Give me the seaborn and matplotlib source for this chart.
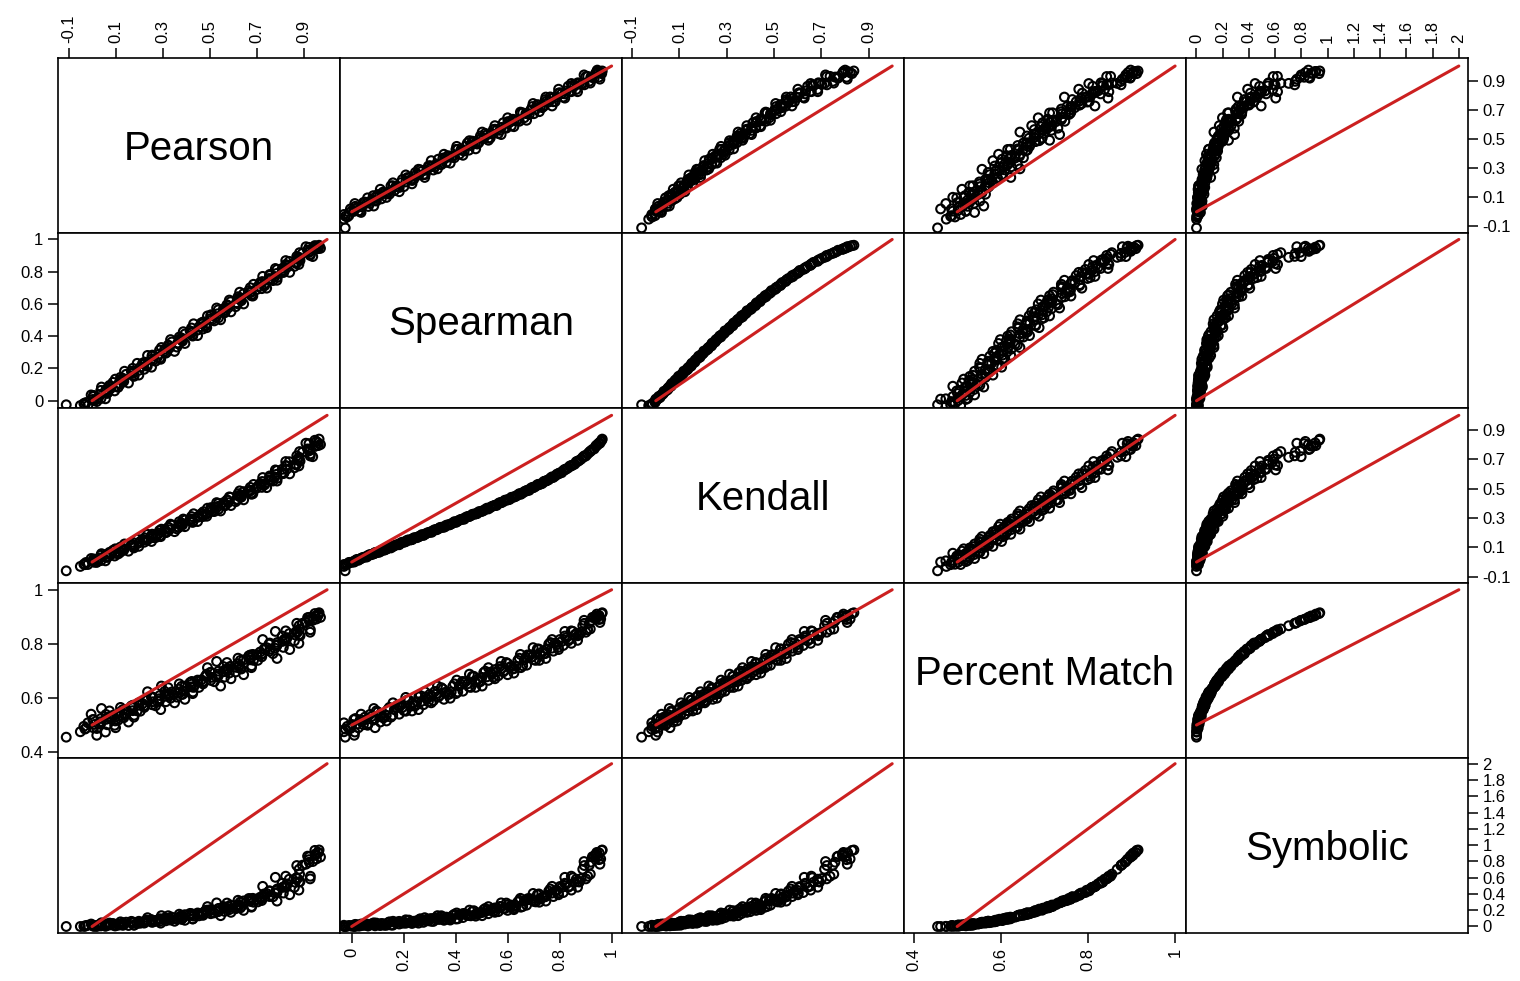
import matplotlib
matplotlib.use("Agg")
import pandas as pd
import matplotlib.pyplot as plt
import seaborn as sns

# similarity measures, one value per compared pair
pearson = [-0.018, -0.035, 0.020, 0.003, 0.028, 0.006, 0.064, 0.060, 0.059, 0.111,
           0.074, 0.114, 0.135, 0.124, 0.121, 0.179, 0.174, 0.167, 0.222, 0.205,
           0.232, 0.215, 0.270, 0.253, 0.278, 0.256, 0.314, 0.310, 0.309, 0.361,
           0.324, 0.364, 0.385, 0.374, 0.371, 0.429, 0.424, 0.417, 0.472, 0.455,
           0.482, 0.465, 0.520, 0.503, 0.528, 0.506, 0.564, 0.560, 0.559, 0.611,
           0.574, 0.614, 0.635, 0.624, 0.621, 0.679, 0.674, 0.667, 0.722, 0.705,
           0.732, 0.715, 0.770, 0.753, 0.778, 0.756, 0.814, 0.810, 0.809, 0.861,
           0.824, 0.864, 0.885, 0.874, 0.871, 0.929, 0.924, 0.917, 0.972, 0.955,
           0.948, 0.962, 0.950, -0.110, 0.020, -0.050, 0.100,
           -0.030, -0.026, 0.010, 0.038, 0.005, 0.035, 0.067, 0.037, 0.079, 0.077,
           0.119, 0.089, 0.131, 0.131, 0.178, 0.145, 0.174, 0.200, 0.173, 0.235,
           0.220, 0.224, 0.260, 0.288, 0.255, 0.285, 0.317, 0.287, 0.329, 0.327,
           0.369, 0.339, 0.381, 0.381, 0.428, 0.395, 0.424, 0.450, 0.423, 0.485,
           0.470, 0.474, 0.510, 0.538, 0.505, 0.535, 0.567, 0.537, 0.579, 0.577,
           0.619, 0.589, 0.631, 0.631, 0.678, 0.645, 0.674, 0.700, 0.673, 0.735,
           0.720, 0.724, 0.760, 0.788, 0.755, 0.785, 0.817, 0.787, 0.829, 0.827,
           0.869, 0.839, 0.881, 0.881, 0.928, 0.895, 0.924, 0.950, 0.923, 0.966,
           0.057, -0.004, 0.096, 0.040, 0.155, 0.099, 0.199, 0.138, 0.253, 0.192,
           0.292, 0.236, 0.351, 0.295, 0.395, 0.334, 0.449, 0.388, 0.488, 0.432,
           0.547, 0.491, 0.591, 0.530, 0.645, 0.584, 0.684, 0.628, 0.743, 0.687,
           0.787, 0.726, 0.841, 0.780, 0.880, 0.824, 0.939, 0.883, 0.963, 0.910]
spearman = [-0.030, -0.017, -0.005, 0.008, 0.020, 0.033, 0.045, 0.058, 0.070, 0.083,
            0.095, 0.108, 0.120, 0.133, 0.145, 0.158, 0.170, 0.183, 0.195, 0.208,
            0.220, 0.233, 0.245, 0.258, 0.270, 0.283, 0.295, 0.308, 0.320, 0.333,
            0.345, 0.358, 0.370, 0.383, 0.395, 0.408, 0.420, 0.433, 0.445, 0.458,
            0.470, 0.483, 0.495, 0.508, 0.520, 0.533, 0.545, 0.558, 0.570, 0.583,
            0.595, 0.608, 0.620, 0.633, 0.645, 0.658, 0.670, 0.683, 0.695, 0.708,
            0.720, 0.733, 0.745, 0.758, 0.770, 0.783, 0.795, 0.808, 0.820, 0.833,
            0.845, 0.858, 0.870, 0.883, 0.895, 0.908, 0.920, 0.933, 0.945, 0.958,
            0.962, 0.952, 0.940, -0.025, 0.010, -0.030, 0.090,
            -0.024, -0.011, 0.001, 0.014, 0.026, 0.039, 0.051, 0.064, 0.076, 0.089,
            0.101, 0.114, 0.126, 0.139, 0.151, 0.164, 0.176, 0.189, 0.201, 0.214,
            0.226, 0.239, 0.251, 0.264, 0.276, 0.289, 0.301, 0.314, 0.326, 0.339,
            0.351, 0.364, 0.376, 0.389, 0.401, 0.414, 0.426, 0.439, 0.451, 0.464,
            0.476, 0.489, 0.501, 0.514, 0.526, 0.539, 0.551, 0.564, 0.576, 0.589,
            0.601, 0.614, 0.626, 0.639, 0.651, 0.664, 0.676, 0.689, 0.701, 0.714,
            0.726, 0.739, 0.751, 0.764, 0.776, 0.789, 0.801, 0.814, 0.826, 0.839,
            0.851, 0.864, 0.876, 0.889, 0.901, 0.914, 0.926, 0.939, 0.951, 0.964,
            0.012, 0.036, 0.061, 0.085, 0.110, 0.134, 0.159, 0.183, 0.208, 0.232,
            0.257, 0.281, 0.306, 0.330, 0.355, 0.379, 0.404, 0.428, 0.453, 0.477,
            0.502, 0.526, 0.551, 0.575, 0.600, 0.624, 0.649, 0.673, 0.698, 0.722,
            0.747, 0.771, 0.796, 0.820, 0.845, 0.869, 0.894, 0.918, 0.943, 0.955]
kendall = [-0.017, -0.015, -0.002, 0.003, 0.018, 0.021, 0.032, 0.034, 0.051, 0.055,
           0.066, 0.068, 0.081, 0.087, 0.102, 0.105, 0.116, 0.118, 0.135, 0.140,
           0.151, 0.153, 0.166, 0.172, 0.187, 0.190, 0.201, 0.203, 0.221, 0.226,
           0.237, 0.239, 0.253, 0.259, 0.275, 0.278, 0.290, 0.292, 0.310, 0.315,
           0.327, 0.330, 0.344, 0.351, 0.367, 0.371, 0.383, 0.386, 0.405, 0.411,
           0.423, 0.427, 0.442, 0.449, 0.466, 0.471, 0.485, 0.489, 0.509, 0.516,
           0.530, 0.535, 0.552, 0.561, 0.580, 0.587, 0.603, 0.609, 0.632, 0.642,
           0.658, 0.667, 0.688, 0.702, 0.724, 0.737, 0.758, 0.771, 0.801, 0.822,
           0.830, 0.812, 0.790, -0.060, 0.000, -0.030, 0.060,
           -0.018, -0.003, -0.002, 0.010, 0.012, 0.028, 0.034, 0.046, 0.050, 0.064,
           0.065, 0.080, 0.081, 0.094, 0.096, 0.112, 0.118, 0.130, 0.134, 0.149,
           0.150, 0.165, 0.166, 0.179, 0.181, 0.197, 0.203, 0.215, 0.220, 0.235,
           0.236, 0.251, 0.253, 0.266, 0.270, 0.286, 0.293, 0.305, 0.310, 0.325,
           0.327, 0.343, 0.345, 0.359, 0.362, 0.379, 0.386, 0.399, 0.405, 0.421,
           0.424, 0.441, 0.444, 0.458, 0.462, 0.480, 0.489, 0.503, 0.509, 0.527,
           0.531, 0.549, 0.555, 0.571, 0.577, 0.598, 0.608, 0.624, 0.634, 0.654,
           0.662, 0.684, 0.693, 0.714, 0.723, 0.749, 0.767, 0.790, 0.807, 0.838,
           0.008, 0.024, 0.041, 0.057, 0.074, 0.090, 0.107, 0.123, 0.140, 0.156,
           0.173, 0.189, 0.207, 0.224, 0.241, 0.258, 0.276, 0.293, 0.312, 0.329,
           0.348, 0.367, 0.385, 0.405, 0.424, 0.444, 0.465, 0.485, 0.507, 0.529,
           0.552, 0.576, 0.601, 0.628, 0.655, 0.685, 0.718, 0.753, 0.794, 0.810]
percent_match = [0.508, 0.495, 0.487, 0.520, 0.503, 0.520, 0.501, 0.521, 0.539, 0.518,
                 0.552, 0.533, 0.527, 0.536, 0.565, 0.536, 0.564, 0.570, 0.565, 0.551,
                 0.592, 0.579, 0.571, 0.604, 0.588, 0.604, 0.586, 0.606, 0.624, 0.603,
                 0.638, 0.619, 0.613, 0.622, 0.652, 0.622, 0.651, 0.657, 0.652, 0.639,
                 0.680, 0.667, 0.660, 0.694, 0.678, 0.695, 0.677, 0.697, 0.716, 0.696,
                 0.731, 0.713, 0.707, 0.717, 0.747, 0.719, 0.749, 0.756, 0.752, 0.739,
                 0.781, 0.770, 0.764, 0.799, 0.784, 0.803, 0.787, 0.809, 0.829, 0.811,
                 0.848, 0.833, 0.830, 0.843, 0.876, 0.852, 0.885, 0.897, 0.898, 0.892,
                 0.912, 0.905, 0.902, 0.455, 0.462, 0.475, 0.490,
                 0.485, 0.488, 0.502, 0.524, 0.490, 0.512, 0.529, 0.505, 0.531, 0.523,
                 0.548, 0.536, 0.528, 0.557, 0.529, 0.557, 0.573, 0.573, 0.553, 0.592,
                 0.569, 0.572, 0.586, 0.609, 0.575, 0.597, 0.614, 0.590, 0.616, 0.609,
                 0.633, 0.622, 0.614, 0.643, 0.616, 0.644, 0.661, 0.661, 0.641, 0.680,
                 0.658, 0.661, 0.676, 0.699, 0.665, 0.688, 0.705, 0.682, 0.709, 0.702,
                 0.727, 0.717, 0.709, 0.739, 0.712, 0.741, 0.759, 0.760, 0.741, 0.781,
                 0.760, 0.764, 0.781, 0.805, 0.773, 0.797, 0.816, 0.794, 0.823, 0.818,
                 0.846, 0.838, 0.834, 0.867, 0.843, 0.876, 0.898, 0.903, 0.890, 0.915,
                 0.474, 0.540, 0.499, 0.561, 0.511, 0.515, 0.582, 0.540, 0.602, 0.552,
                 0.557, 0.623, 0.582, 0.644, 0.595, 0.599, 0.666, 0.625, 0.688, 0.639,
                 0.644, 0.712, 0.671, 0.735, 0.686, 0.692, 0.761, 0.721, 0.786, 0.739,
                 0.746, 0.816, 0.779, 0.846, 0.802, 0.813, 0.887, 0.855, 0.910, 0.879]
symbolic = [0.015, 0.003, 0.010, 0.017, 0.020, 0.008, 0.013, 0.031, 0.023, 0.023,
            0.042, 0.017, 0.034, 0.025, 0.057, 0.016, 0.050, 0.063, 0.042, 0.040,
            0.079, 0.052, 0.065, 0.082, 0.077, 0.073, 0.070, 0.097, 0.103, 0.088,
            0.132, 0.094, 0.107, 0.103, 0.151, 0.094, 0.144, 0.161, 0.137, 0.131,
            0.194, 0.158, 0.167, 0.207, 0.193, 0.200, 0.185, 0.225, 0.246, 0.218,
            0.288, 0.237, 0.245, 0.251, 0.322, 0.246, 0.320, 0.344, 0.319, 0.302,
            0.400, 0.359, 0.365, 0.435, 0.410, 0.438, 0.411, 0.480, 0.531, 0.481,
            0.618, 0.543, 0.551, 0.589, 0.749, 0.617, 0.790, 0.864, 0.853, 0.830,
            0.935, 0.905, 0.890, 0.000, 0.000, 0.000, 0.008,
            0.002, 0.012, 0.003, 0.026, 0.004, 0.022, 0.023, 0.007, 0.032, 0.019,
            0.029, 0.037, 0.014, 0.045, 0.018, 0.053, 0.054, 0.047, 0.044, 0.070,
            0.047, 0.064, 0.057, 0.095, 0.051, 0.089, 0.095, 0.062, 0.105, 0.088,
            0.115, 0.115, 0.087, 0.136, 0.092, 0.145, 0.156, 0.149, 0.135, 0.185,
            0.148, 0.167, 0.172, 0.222, 0.157, 0.213, 0.228, 0.182, 0.244, 0.221,
            0.269, 0.263, 0.228, 0.302, 0.237, 0.314, 0.340, 0.335, 0.308, 0.391,
            0.339, 0.363, 0.384, 0.461, 0.368, 0.445, 0.491, 0.417, 0.523, 0.497,
            0.599, 0.581, 0.546, 0.703, 0.585, 0.753, 0.857, 0.873, 0.821, 0.940,
            0.002, 0.030, 0.008, 0.045, 0.012, 0.015, 0.064, 0.030, 0.082, 0.037,
            0.041, 0.108, 0.064, 0.133, 0.076, 0.079, 0.166, 0.110, 0.201, 0.127,
            0.133, 0.244, 0.174, 0.290, 0.198, 0.207, 0.346, 0.262, 0.406, 0.298,
            0.312, 0.493, 0.390, 0.604, 0.447, 0.483, 0.798, 0.643, 0.910, 0.765]

names = ["Pearson", "Spearman", "Kendall", "Percent Match", "Symbolic"]

# reference line: where each measure sits for "no agreement" and "perfect agreement"
line_start = [0, 0, 0, 0.5, 0]
line_end = [1, 1, 1, 1, 2]

# axis ticks per variable
ticks = [
    [-0.1, 0.1, 0.3, 0.5, 0.7, 0.9],
    [0, 0.2, 0.4, 0.6, 0.8, 1],
    [-0.1, 0.1, 0.3, 0.5, 0.7, 0.9],
    [0.4, 0.6, 0.8, 1],
    [0, 0.2, 0.4, 0.6, 0.8, 1, 1.2, 1.4, 1.6, 1.8, 2],
]
tick_labels = [
    ["-0.1", "0.1", "0.3", "0.5", "0.7", "0.9"],
    ["0", "0.2", "0.4", "0.6", "0.8", "1"],
    ["-0.1", "0.1", "0.3", "0.5", "0.7", "0.9"],
    ["0.4", "0.6", "0.8", "1"],
    ["0", "0.2", "0.4", "0.6", "0.8", "1", "1.2", "1.4", "1.6", "1.8", "2"],
]
limits = [(-0.145, 1.055), (-0.045, 1.04), (-0.143, 1.05), (0.378, 1.025), (-0.08, 2.07)]

df = pd.DataFrame({
    "Pearson": pearson,
    "Spearman": spearman,
    "Kendall": kendall,
    "Percent Match": percent_match,
    "Symbolic": symbolic,
})

sns.set_style("white")
plt.rcParams["font.family"] = ["Liberation Sans", "DejaVu Sans"]

g = sns.PairGrid(df, vars=names, despine=False, height=2, aspect=1.6)
g.map_offdiag(sns.scatterplot, marker="o", facecolor="none", edgecolor="black",
              linewidth=1.5, s=40)

g.figure.set_size_inches(15.2, 9.81)
g.figure.subplots_adjust(left=58 / 1520, right=1468 / 1520,
                         bottom=1 - 933 / 981, top=1 - 58 / 981,
                         wspace=0, hspace=0)

n = len(names)
for i in range(n):
    for j in range(n):
        ax = g.axes[i, j]
        ax.set_xlabel("")
        ax.set_ylabel("")
        ax.set_xlim(limits[j])
        ax.set_ylim(limits[i])
        for sp in ax.spines.values():
            sp.set_color("black")
            sp.set_linewidth(1.2)
        ax.tick_params(which="both", top=False, bottom=False, left=False, right=False,
                       labeltop=False, labelbottom=False, labelleft=False, labelright=False,
                       direction="out", length=7.5, width=1.1, labelsize=12, pad=3,
                       colors="black")
        if i == j:
            ax.text(0.5, 0.48, names[i], transform=ax.transAxes, color="black",
                    ha="center", va="center", fontsize=29)
        else:
            ax.plot([line_start[j], line_end[j]], [line_start[i], line_end[i]],
                    color="#cc2020", lw=2.2, zorder=5)

for j in range(n):
    g.axes[0, j].set_xticks(ticks[j], tick_labels[j])
    g.axes[j, 0].set_yticks(ticks[j], tick_labels[j])

for j in range(0, n, 2):
    g.axes[0, j].tick_params(axis="x", top=True, labeltop=True, labelrotation=90)
for j in range(1, n, 2):
    g.axes[n - 1, j].tick_params(axis="x", bottom=True, labelbottom=True, labelrotation=90)
for i in range(0, n, 2):
    g.axes[i, n - 1].tick_params(axis="y", right=True, labelright=True)
for i in range(1, n, 2):
    g.axes[i, 0].tick_params(axis="y", left=True, labelleft=True)

g.figure.savefig("out.png", dpi=100)
